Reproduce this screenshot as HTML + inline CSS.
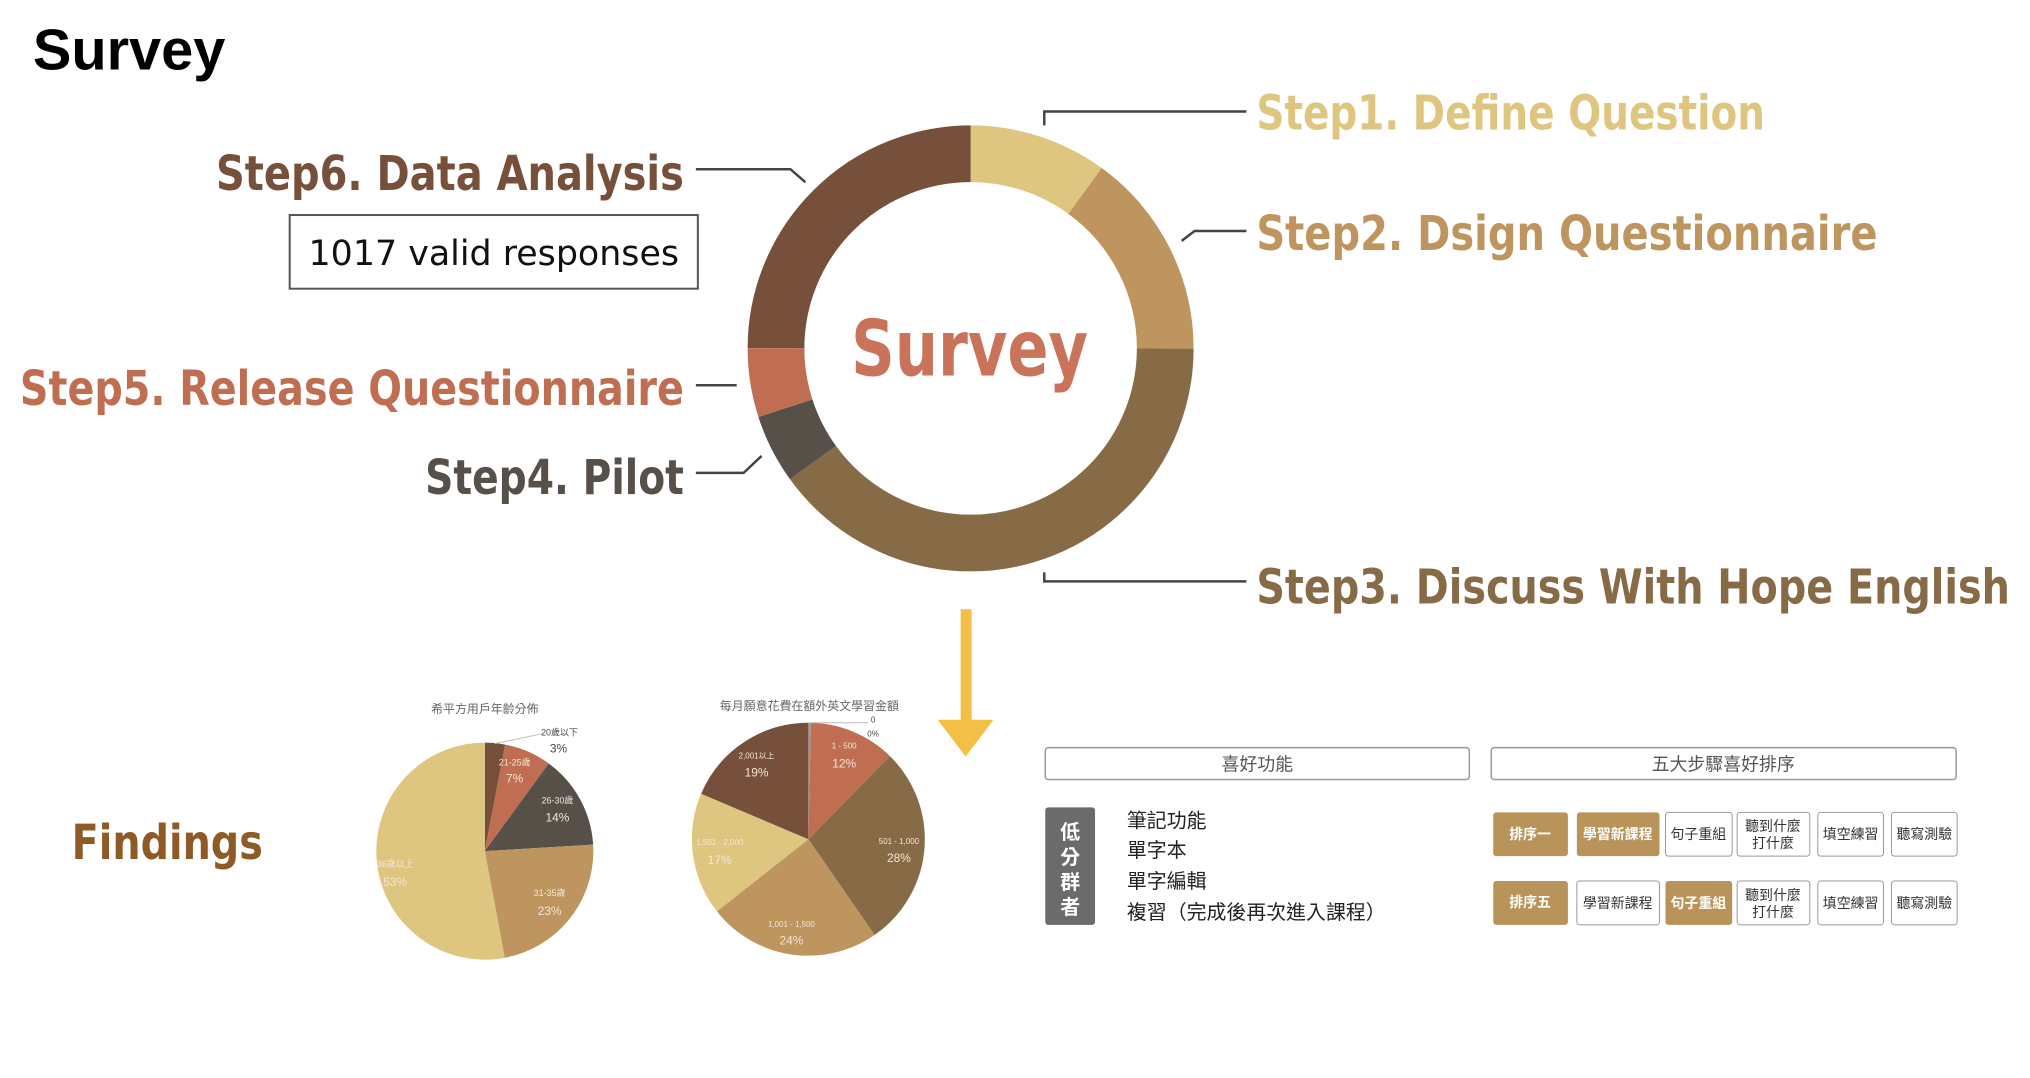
<!DOCTYPE html>
<html><head><meta charset="utf-8"><style>
html,body{margin:0;padding:0;background:#fff;}
svg{display:block;}
.st{font-family:"DejaVu Sans","Liberation Sans",sans-serif;font-weight:bold;}
.cj{font-family:"Liberation Sans","Noto Sans CJK TC",sans-serif;}
</style></head><body>
<svg width="2030" height="1078" viewBox="0 0 2030 1078" xmlns="http://www.w3.org/2000/svg">
<g transform="scale(0.9955)">
<text x="33" y="70" font-family="Liberation Sans, sans-serif" font-weight="bold" font-size="58" fill="#000">Survey</text>

<!-- donut -->
<g transform="rotate(-90 975 350)" fill="none" stroke-width="57">
<circle cx="975" cy="350" r="195.5" stroke="#dfc680" stroke-dasharray="122.8 1300" stroke-dashoffset="0"/>
<circle cx="975" cy="350" r="195.5" stroke="#be955e" stroke-dasharray="184.3 1300" stroke-dashoffset="-122.8"/>
<circle cx="975" cy="350" r="195.5" stroke="#876b47" stroke-dasharray="491.3 1300" stroke-dashoffset="-307.1"/>
<circle cx="975" cy="350" r="195.5" stroke="#565048" stroke-dasharray="61.4 1300" stroke-dashoffset="-798.4"/>
<circle cx="975" cy="350" r="195.5" stroke="#c06e52" stroke-dasharray="61.4 1300" stroke-dashoffset="-859.8"/>
<circle cx="975" cy="350" r="195.5" stroke="#76503a" stroke-dasharray="307.1 1300" stroke-dashoffset="-921.3"/>
</g>
<text class="st" x="855" y="377" font-size="78" fill="#c9735a" textLength="238" lengthAdjust="spacingAndGlyphs">Survey</text>

<!-- connectors -->
<g fill="none" stroke="#444" stroke-width="2.5">
<polyline points="1049,126 1049,112 1252,112"/>
<polyline points="1187,242 1200,232 1252,232"/>
<polyline points="1049,575 1049,584 1252,584"/>
<polyline points="699,170 794,170 809,183"/>
<polyline points="699,387 740,387"/>
<polyline points="699,475 747,475 765,458"/>
</g>
<text class="st" x="1262" y="130" font-size="48" fill="#dfc680" textLength="511" lengthAdjust="spacingAndGlyphs">Step1. Define Question</text>
<text class="st" x="1262" y="251" font-size="48" fill="#be955e" textLength="624" lengthAdjust="spacingAndGlyphs">Step2. Dsign Questionnaire</text>
<text class="st" x="1262" y="606" font-size="48" fill="#876b47" textLength="757" lengthAdjust="spacingAndGlyphs">Step3. Discuss With Hope English</text>
<text class="st" x="217" y="191" font-size="48" fill="#76503a" textLength="470" lengthAdjust="spacingAndGlyphs">Step6. Data Analysis</text>
<text class="st" x="20" y="407" font-size="48" fill="#c06e52" textLength="667" lengthAdjust="spacingAndGlyphs">Step5. Release Questionnaire</text>
<text class="st" x="427" y="496" font-size="48" fill="#565048" textLength="260" lengthAdjust="spacingAndGlyphs">Step4. Pilot</text>
<rect x="291" y="216" width="410" height="74" fill="#fff" stroke="#555" stroke-width="2"/>
<text x="496" y="266" text-anchor="middle" font-family="DejaVu Sans, sans-serif" font-size="35" fill="#111">1017 valid responses</text>

<!-- arrow -->
<rect x="965" y="612" width="11" height="112" fill="#f4bf45"/>
<polygon points="942,723 998,723 970,760" fill="#f4bf45"/>

<text class="st" x="72" y="863" font-size="48" fill="#8e5a25" textLength="192" lengthAdjust="spacingAndGlyphs">Findings</text>

<!-- pie 1 -->
<text class="cj" x="487" y="716" text-anchor="middle" font-size="12" fill="#666">希平方用戶年齡分佈</text>
<g transform="rotate(-90 487 855)" fill="none" stroke-width="109">
<circle cx="487" cy="855" r="54.5" stroke="#76503a" stroke-dasharray="10.3 400" stroke-dashoffset="0"/>
<circle cx="487" cy="855" r="54.5" stroke="#c06e52" stroke-dasharray="24 400" stroke-dashoffset="-10.3"/>
<circle cx="487" cy="855" r="54.5" stroke="#565048" stroke-dasharray="47.9 400" stroke-dashoffset="-34.3"/>
<circle cx="487" cy="855" r="54.5" stroke="#be955e" stroke-dasharray="78.8 400" stroke-dashoffset="-82.2"/>
<circle cx="487" cy="855" r="54.5" stroke="#dfc680" stroke-dasharray="181.5 400" stroke-dashoffset="-161"/>
</g>
<line x1="497" y1="747" x2="545" y2="737" stroke="#bbb" stroke-width="1"/>
<g class="cj" font-size="9" fill="#f3e6d6" text-anchor="middle">
<text x="562" y="739" fill="#444">20歲以下</text><text x="561" y="756" font-size="12" fill="#444">3%</text>
<text x="517" y="769">21-25歲</text><text x="517" y="786" font-size="12">7%</text>
<text x="560" y="807">26-30歲</text><text x="560" y="825" font-size="12">14%</text>
<text x="552" y="900">31-35歲</text><text x="552" y="919" font-size="12">23%</text>
<text x="397" y="871">36歲以上</text><text x="397" y="890" font-size="12">53%</text>
</g>

<!-- pie 2 -->
<text class="cj" x="813" y="713" text-anchor="middle" font-size="12" fill="#666">每月願意花費在額外英文學習金額</text>
<g transform="rotate(-90 812 843)" fill="none" stroke-width="117">
<circle cx="812" cy="843" r="58.5" stroke="#999" stroke-dasharray="1.3 400" stroke-dashoffset="0"/>
<circle cx="812" cy="843" r="58.5" stroke="#c06e52" stroke-dasharray="44.1 400" stroke-dashoffset="-1.3"/>
<circle cx="812" cy="843" r="58.5" stroke="#876b47" stroke-dasharray="102.9 400" stroke-dashoffset="-45.4"/>
<circle cx="812" cy="843" r="58.5" stroke="#be955e" stroke-dasharray="88.2 400" stroke-dashoffset="-148.3"/>
<circle cx="812" cy="843" r="58.5" stroke="#dfc680" stroke-dasharray="62.5 400" stroke-dashoffset="-236.5"/>
<circle cx="812" cy="843" r="58.5" stroke="#76503a" stroke-dasharray="70 400" stroke-dashoffset="-299"/>
</g>
<line x1="813" y1="726" x2="872" y2="726" stroke="#bbb" stroke-width="1"/>
<g class="cj" font-size="8" fill="#f3e6d6" text-anchor="middle">
<text x="877" y="726" fill="#444">0</text><text x="877" y="740" fill="#444">0%</text>
<text x="848" y="752">1 - 500</text><text x="848" y="771" font-size="12">12%</text>
<text x="903" y="848">501 - 1,000</text><text x="903" y="866" font-size="12">28%</text>
<text x="795" y="931">1,001 - 1,500</text><text x="795" y="949" font-size="12">24%</text>
<text x="723" y="849">1,501 - 2,000</text><text x="723" y="868" font-size="12">17%</text>
<text x="760" y="762">2,001以上</text><text x="760" y="780" font-size="12">19%</text>
</g>

<!-- right panel -->
<rect x="1050" y="751" width="426" height="32" rx="3" fill="#fff" stroke="#999" stroke-width="1.5"/>
<text class="cj" x="1263" y="774" text-anchor="middle" font-size="18" fill="#555">喜好功能</text>
<rect x="1498" y="751" width="467" height="32" rx="3" fill="#fff" stroke="#999" stroke-width="1.5"/>
<text class="cj" x="1731" y="774" text-anchor="middle" font-size="18" fill="#555">五大步驟喜好排序</text>
<rect x="1050" y="811" width="50" height="118" rx="3" fill="#6b6b6b"/>
<g class="cj" font-size="20" fill="#fff" text-anchor="middle" font-weight="bold">
<text x="1075" y="843">低</text><text x="1075" y="868">分</text><text x="1075" y="893">群</text><text x="1075" y="918">者</text>
</g>
<g class="cj" font-size="20" fill="#222">
<text x="1132" y="831">筆記功能</text><text x="1132" y="861">單字本</text><text x="1132" y="892">單字編輯</text><text x="1132" y="923">複習（完成後再次進入課程）</text>
</g>
<g class="cj" font-size="14" text-anchor="middle">
<rect x="1500" y="816" width="75" height="44" rx="3" fill="#b8945a"/><text x="1537" y="843" fill="#fff" font-weight="bold">排序一</text>
<rect x="1584" y="816" width="83" height="44" rx="3" fill="#b8945a"/><text x="1625" y="843" fill="#fff" font-weight="bold">學習新課程</text>
<rect x="1673" y="816" width="67" height="44" rx="3" fill="#fff" stroke="#999"/><text x="1706" y="843" fill="#333">句子重組</text>
<rect x="1745" y="816" width="73" height="44" rx="3" fill="#fff" stroke="#999"/><text x="1781" y="835" fill="#333">聽到什麼</text><text x="1781" y="852" fill="#333">打什麼</text>
<rect x="1826" y="816" width="66" height="44" rx="3" fill="#fff" stroke="#999"/><text x="1859" y="843" fill="#333">填空練習</text>
<rect x="1900" y="816" width="66" height="44" rx="3" fill="#fff" stroke="#999"/><text x="1933" y="843" fill="#333">聽寫測驗</text>

<rect x="1500" y="885" width="75" height="44" rx="3" fill="#b8945a"/><text x="1537" y="911" fill="#fff" font-weight="bold">排序五</text>
<rect x="1584" y="885" width="83" height="44" rx="3" fill="#fff" stroke="#999"/><text x="1625" y="912" fill="#333">學習新課程</text>
<rect x="1673" y="885" width="67" height="44" rx="3" fill="#b8945a"/><text x="1706" y="912" fill="#fff" font-weight="bold">句子重組</text>
<rect x="1745" y="885" width="73" height="44" rx="3" fill="#fff" stroke="#999"/><text x="1781" y="904" fill="#333">聽到什麼</text><text x="1781" y="921" fill="#333">打什麼</text>
<rect x="1826" y="885" width="66" height="44" rx="3" fill="#fff" stroke="#999"/><text x="1859" y="912" fill="#333">填空練習</text>
<rect x="1900" y="885" width="66" height="44" rx="3" fill="#fff" stroke="#999"/><text x="1933" y="912" fill="#333">聽寫測驗</text>
</g>
</g>
</svg>
</body></html>
